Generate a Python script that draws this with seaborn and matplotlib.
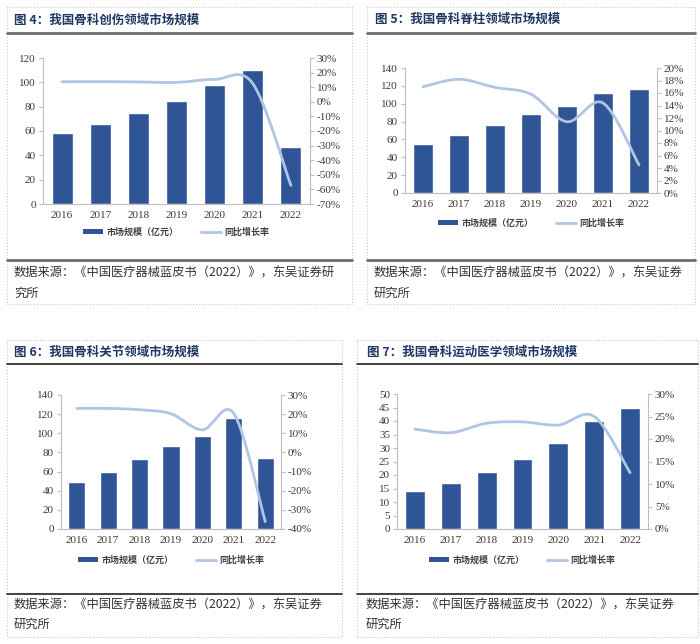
import numpy as np
import matplotlib
matplotlib.use("Agg")
import matplotlib.pyplot as plt
import seaborn as sns
from matplotlib.path import Path
from matplotlib.patches import PathPatch, Patch
from matplotlib.lines import Line2D
from matplotlib.ticker import FuncFormatter

sns.set_style("white")
plt.rcParams['font.family'] = ['Liberation Serif', 'Noto Sans CJK SC', 'DejaVu Sans']

years = ["2016", "2017", "2018", "2019", "2020", "2021", "2022"]

trauma_size = [58, 66, 75, 85, 98, 110, 47]
trauma_growth = [13.7, 13.8, 13.6, 13.3, 15.3, 12.5, -57.3]

spine_size = [55, 65, 76, 88, 98, 112, 117]
spine_growth = [17.0, 18.2, 16.9, 15.8, 11.4, 14.4, 4.5]

joint_size = [49, 60, 73, 87, 97, 116, 74]
joint_growth = [23.0, 23.0, 22.3, 20.2, 11.8, 20.3, -36.2]

sports_size = [14, 17, 21, 26, 32, 40, 45]
sports_growth = [22.2, 21.4, 23.5, 23.8, 23.1, 25.0, 12.5]

titles = ["图 4：我国骨科创伤领域市场规模", "图 5：我国骨科脊柱领域市场规模",
          "图 6：我国骨科关节领域市场规模", "图 7：我国骨科运动医学领域市场规模"]
legend_labels = ["市场规模（亿元）", "同比增长率"]
source_lines = [["数据来源：《中国医疗器械蓝皮书（2022）》，东吴证券研", "究所"],
                ["数据来源：《中国医疗器械蓝皮书（2022）》，东吴证券", "研究所"],
                ["数据来源：《中国医疗器械蓝皮书（2022）》，东吴证券", "研究所"],
                ["数据来源：《中国医疗器械蓝皮书（2022）》，东吴证券", "研究所"]]

W, H = 700, 644
fig = plt.figure(figsize=(W / 100, H / 100), dpi=100)
fig.patch.set_facecolor("white")

BAR = "#2F5597"
LINE = "#B0C4E6"
NAVY = "#1F3864"
SPINE = "#BFBFBF"
CJK = ['Noto Sans CJK SC', 'DejaVu Sans']
SERIF = ['Liberation Serif', 'DejaVu Serif']


def fx(x):
    return x / W


def fy(y):
    return 1 - y / H


def hline(x0, x1, y, color, lw, ls="-"):
    fig.add_artist(Line2D([fx(x0), fx(x1)], [fy(y), fy(y)], transform=fig.transFigure,
                          color=color, lw=lw, ls=ls))


def vline(x, y0, y1, color, lw, ls="-"):
    fig.add_artist(Line2D([fx(x), fx(x)], [fy(y0), fy(y1)], transform=fig.transFigure,
                          color=color, lw=lw, ls=ls))


def dotted_box(x0, y0, x1, y1):
    c = "#C8C8C8"
    hline(x0, x1, y0, c, 0.8, ":")
    hline(x0, x1, y1, c, 0.8, ":")
    vline(x0, y0, y1, c, 0.8, ":")
    vline(x1, y0, y1, c, 0.8, ":")


def smooth_patch(xs, ys):
    pts = [np.array([x, y], dtype=float) for x, y in zip(xs, ys)]
    n = len(pts)
    verts = [pts[0]]
    codes = [Path.MOVETO]
    for i in range(n - 1):
        p0 = pts[i - 1] if i > 0 else pts[i]
        p1 = pts[i]
        p2 = pts[i + 1]
        p3 = pts[i + 2] if i + 2 < n else pts[i + 1]
        c1 = p1 + (p2 - p0) / 6.0
        c2 = p2 - (p3 - p1) / 6.0
        verts += [c1, c2, p2]
        codes += [Path.CURVE4] * 3
    return PathPatch(Path(verts, codes), fill=False, edgecolor=LINE, lw=2.0,
                     capstyle="round", joinstyle="round")


def panel(box, size, growth, lticks, rticks, legend_y):
    x0, y0, x1, y1 = box
    ax = fig.add_axes([fx(x0), fy(y1), fx(x1 - x0), (y1 - y0) / H])
    sns.barplot(x=years, y=size, ax=ax, color=BAR, saturation=1, width=0.55)
    ax.set_xlim(-0.5, 6.5)
    ax.set_ylim(lticks[0], lticks[-1])
    ax.set_yticks(lticks)
    ax.set_xlabel("")
    ax.set_ylabel("")
    ax2 = ax.twinx()
    ax2.set_ylim(rticks[0], rticks[-1])
    ax2.set_yticks(rticks)
    ax2.yaxis.set_major_formatter(FuncFormatter(lambda v, p: f"{v:.0f}%"))
    ax2.add_patch(smooth_patch(range(len(years)), growth))
    for a in (ax, ax2):
        for s in a.spines.values():
            s.set_color(SPINE)
            s.set_linewidth(0.8)
        a.spines["top"].set_visible(False)
        a.tick_params(axis="y", length=3, width=0.8, color=SPINE, labelsize=8,
                      labelcolor="#3A3A3A", pad=2, labelfontfamily=SERIF)
        a.tick_params(axis="x", length=0, labelsize=8, labelcolor="#3A3A3A", pad=5,
                      labelfontfamily=SERIF)
        a.grid(False)
    ax.spines["right"].set_visible(False)
    ax2.spines["left"].set_visible(False)
    ax2.spines["bottom"].set_visible(False)
    handles = [Patch(facecolor=BAR, edgecolor="none"),
               Line2D([0], [0], color=LINE, lw=2.0)]
    cx = fx((x0 + x1) / 2)
    fig.legend(handles, legend_labels, loc="center", bbox_to_anchor=(cx, fy(legend_y)),
               ncol=2, frameon=False, handlelength=2.2, handleheight=0.5,
               columnspacing=2.5, handletextpad=0.4,
               prop={"family": CJK, "size": 6.5, "weight": "bold"}, labelcolor="#404040")
    return ax


# Panel frames
dotted_box(7, 7, 352, 304)
dotted_box(367, 7, 695, 304)
dotted_box(7, 340, 342, 637)
dotted_box(357, 340, 698, 637)

# Titles
title_pos = [(14, 20), (375, 19), (14, 352), (367, 352)]
for t, (x, y) in zip(titles, title_pos):
    fig.text(fx(x), fy(y), t, family=CJK, weight="bold", fontsize=9, color=NAVY,
             va="center", ha="left")

# separators
hline(7, 352, 33, "#6E6E6E", 2.0)
hline(367, 695, 33, "#6E6E6E", 2.0)
hline(7, 352, 260, "#6E6E6E", 2.0)
hline(367, 695, 260, "#6E6E6E", 2.0)
hline(7, 342, 364, "#222222", 1.2)
hline(357, 698, 364, "#222222", 1.2)
hline(7, 342, 594, "#222222", 1.2)
hline(357, 698, 594, "#222222", 1.2)

# Sources
src_pos = [(14, 273, 293), (374, 273, 293), (14, 605, 624), (366, 605, 624)]
for lines, (x, ya, yb) in zip(source_lines, src_pos):
    fig.text(fx(x), fy(ya), lines[0], family=CJK, fontsize=8.8, color="#333333",
             va="center", ha="left")
    fig.text(fx(x), fy(yb), lines[1], family=CJK, fontsize=8.8, color="#333333",
             va="center", ha="left")

panel((43, 58, 310, 204), trauma_size, trauma_growth,
      list(range(0, 121, 20)), list(range(-70, 31, 10)), 232)
panel((405, 68, 657, 193), spine_size, spine_growth,
      list(range(0, 141, 20)), list(range(0, 21, 2)), 223)
panel((61, 395, 281, 529), joint_size, joint_growth,
      list(range(0, 141, 20)), list(range(-40, 31, 10)), 560)
panel((397, 394, 648, 529), sports_size, sports_growth,
      list(range(0, 51, 5)), list(range(0, 31, 5)), 560)

fig.savefig("out.png", dpi=100, facecolor="white")
